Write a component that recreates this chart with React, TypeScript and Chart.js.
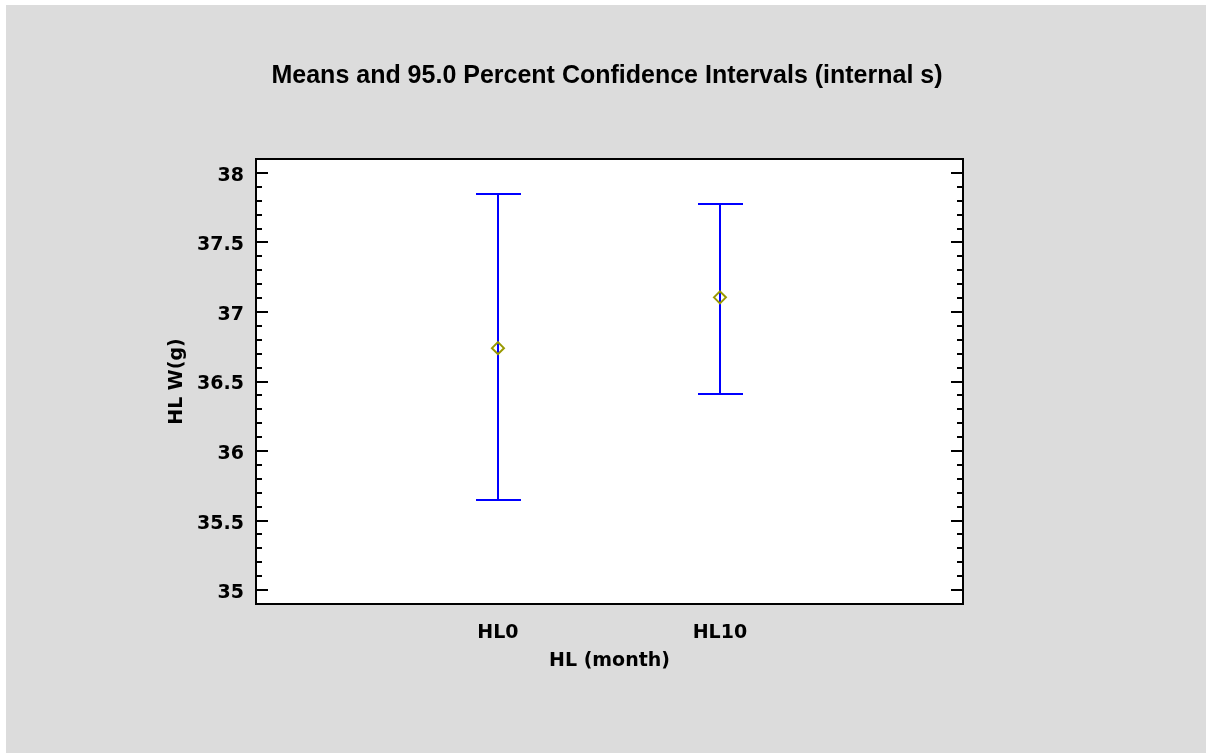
import React, { useEffect, useRef } from 'react';
import { Chart, registerables } from 'chart.js';

Chart.register(...registerables);

const categories = ['HL0', 'HL10'];
const means = [36.74, 37.105];
const lowerLimits = [35.645, 36.41];
const upperLimits = [37.85, 37.78];
const yTickValues = [35, 35.5, 36, 36.5, 37, 37.5, 38];
const titleText = 'Means and 95.0 Percent Confidence Intervals (internal s)';
const xTitle = 'HL (month)';
const yTitle = 'HL W(g)';

const TITLE_FONT = "'Liberation Sans', Arial, Helvetica, sans-serif";
const AXIS_FONT = "'DejaVu Sans', 'Liberation Sans', Arial, sans-serif";

const decorPlugin = {
  id: 'decor',
  beforeDatasetsDraw(chart: any) {
    const { ctx, chartArea: a, scales } = chart;
    const x = scales.x;
    const y = scales.y;
    ctx.save();
    ctx.fillStyle = '#ffffff';
    ctx.fillRect(a.left, a.top, a.right - a.left, a.bottom - a.top);
    ctx.strokeStyle = '#0000ff';
    ctx.lineWidth = 2;
    means.forEach((_, i) => {
      const px = Math.round(x.getPixelForValue(i + 1));
      const yt = Math.round(y.getPixelForValue(upperLimits[i]));
      const yb = Math.round(y.getPixelForValue(lowerLimits[i]));
      ctx.beginPath();
      ctx.moveTo(px, yt);
      ctx.lineTo(px, yb);
      ctx.moveTo(px - 22, yt);
      ctx.lineTo(px + 23, yt);
      ctx.moveTo(px - 22, yb);
      ctx.lineTo(px + 23, yb);
      ctx.stroke();
    });
    ctx.restore();
  },
  afterDraw(chart: any) {
    const { ctx, chartArea: a, scales } = chart;
    const y = scales.y;
    ctx.save();
    ctx.strokeStyle = '#000000';
    ctx.lineWidth = 2;
    ctx.strokeRect(a.left, a.top, a.right - a.left, a.bottom - a.top);
    const first = yTickValues[0];
    const last = yTickValues[yTickValues.length - 1];
    const steps = Math.round((last - first) / 0.1);
    ctx.beginPath();
    for (let k = 0; k <= steps; k++) {
      const v = first + k * 0.1;
      const major = k % 5 === 0;
      const len = major ? 12 : 6;
      const py = Math.round(y.getPixelForValue(v));
      ctx.moveTo(a.left, py);
      ctx.lineTo(a.left + len, py);
      ctx.moveTo(a.right, py);
      ctx.lineTo(a.right - len, py);
    }
    ctx.stroke();
    ctx.restore();
  },
};

export default function App() {
  const canvasRef = useRef<HTMLCanvasElement | null>(null);

  useEffect(() => {
    const canvas = canvasRef.current;
    if (!canvas) return;
    const chart = new Chart(canvas, {
      type: 'scatter',
      data: {
        datasets: [
          {
            data: means.map((m, i) => ({ x: i + 1, y: m })),
            pointStyle: 'rectRot',
            radius: 6,
            hoverRadius: 6,
            borderWidth: 2,
            borderColor: '#999900',
            backgroundColor: 'rgba(0,0,0,0)',
          },
        ],
      },
      options: {
        animation: false,
        responsive: false,
        events: [],
        layout: { padding: { left: 100, right: 98, top: 0, bottom: 81 } },
        plugins: {
          legend: { display: false },
          tooltip: { enabled: false },
          title: {
            display: true,
            text: titleText,
            color: '#000000',
            font: { family: TITLE_FONT, size: 25, weight: 'bold' },
            padding: { top: 56, bottom: 68 },
          },
        },
        scales: {
          x: {
            type: 'linear',
            min: -0.09,
            max: 3.095,
            grid: { display: false, drawTicks: false },
            border: { display: false },
            afterBuildTicks: (s: any) => {
              s.ticks = categories.map((_, i) => ({ value: i + 1 }));
            },
            afterFit: (s: any) => {
              s.height = 68;
            },
            ticks: {
              autoSkip: false,
              maxRotation: 0,
              padding: 17.5,
              color: '#000000',
              font: { family: AXIS_FONT, size: 19, weight: 'bold' },
              callback: (v: any) => categories[Math.round(Number(v)) - 1] ?? '',
            },
            title: {
              display: true,
              text: xTitle,
              color: '#000000',
              font: { family: AXIS_FONT, size: 19, weight: 'bold' },
              padding: { top: 0, bottom: 0 },
            },
          },
          y: {
            type: 'linear',
            position: 'left',
            min: 34.9,
            max: 38.1,
            grid: { display: false, drawTicks: false },
            border: { display: false },
            afterBuildTicks: (s: any) => {
              s.ticks = yTickValues.map((v) => ({ value: v }));
            },
            afterFit: (s: any) => {
              s.width = 150;
            },
            ticks: {
              padding: 12,
              labelOffset: 3,
              color: '#000000',
              font: { family: AXIS_FONT, size: 19, weight: 'bold' },
              callback: (v: any) => String(v),
            },
            title: {
              display: true,
              text: yTitle,
              color: '#000000',
              font: { family: AXIS_FONT, size: 19, weight: 'bold' },
              padding: { top: 60, bottom: 0 },
            },
          },
          yRight: {
            type: 'linear',
            position: 'right',
            min: 34.9,
            max: 38.1,
            grid: { display: false, drawTicks: false },
            border: { display: false },
            ticks: { display: false },
            afterFit: (s: any) => {
              s.width = 145;
            },
          },
        },
      },
      plugins: [decorPlugin],
    });
    return () => chart.destroy();
  }, []);

  return (
    <div
      style={{
        position: 'absolute',
        left: 6,
        top: 5,
        width: 1200,
        height: 748,
        background: '#dcdcdc',
      }}
    >
      <canvas ref={canvasRef} width={1200} height={748} style={{ display: 'block' }} />
    </div>
  );
}
